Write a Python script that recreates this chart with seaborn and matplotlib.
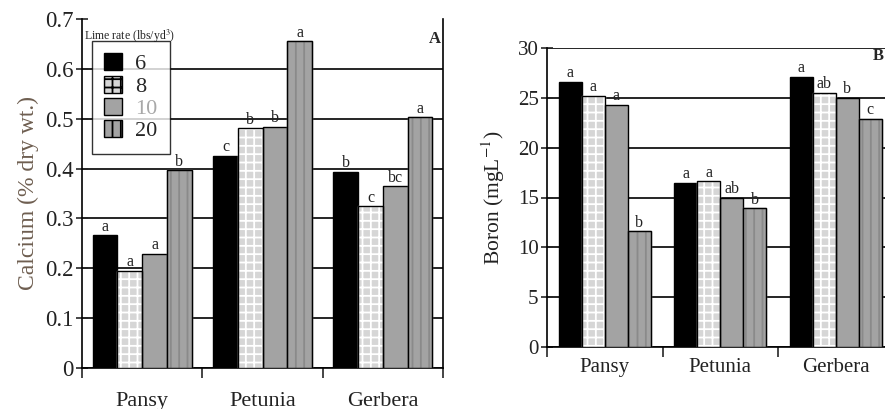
import pandas as pd
import seaborn as sns
import matplotlib.pyplot as plt
from matplotlib.patches import Rectangle, Patch

# datos
plantas = ["Pansy", "Petunia", "Gerbera"]
dosis = ["6", "8", "10", "20"]

calcio = {
    "6": [0.266, 0.426, 0.394],
    "8": [0.195, 0.481, 0.324],
    "10": [0.229, 0.484, 0.365],
    "20": [0.397, 0.655, 0.503],
}
letras_calcio = {
    "6": ["a", "c", "b"],
    "8": ["a", "b", "c"],
    "10": ["a", "b", "bc"],
    "20": ["b", "a", "a"],
}

boro = {
    "6": [26.6, 16.5, 27.1],
    "8": [25.2, 16.65, 25.5],
    "10": [24.3, 15.0, 25.0],
    "20": [11.6, 13.95, 22.9],
}
letras_boro = {
    "6": ["a", "a", "a"],
    "8": ["a", "a", "ab"],
    "10": ["a", "ab", "b"],
    "20": ["b", "b", "c"],
}

colores = {"6": "#000000", "8": "#d6d6d6", "10": "#a3a3a3", "20": "#a3a3a3"}
tramas = {"8": ("++", "white"), "20": ("||", "#8a8a8a")}

sns.set_style("white")
plt.rcParams["font.family"] = ["Liberation Serif", "DejaVu Serif"]
plt.rcParams["mathtext.fontset"] = "stix"
plt.rcParams["hatch.linewidth"] = 1.3


def tabla(valores):
    filas = []
    for d in dosis:
        for p, v in zip(plantas, valores[d]):
            filas.append({"planta": p, "dosis": d, "valor": v})
    return pd.DataFrame(filas)


def panel(ax, valores, letras, ymax, paso, ancho, fs_tick, fs_cat, izquierdo):
    sns.barplot(data=tabla(valores), x="planta", y="valor", hue="dosis",
                order=plantas, hue_order=dosis, palette=colores,
                width=ancho, gap=0, edgecolor="black", linewidth=1.0,
                saturation=1, errorbar=None, legend=False, ax=ax, zorder=3)

    for d, cont in zip(dosis, ax.containers):
        for barra, letra in zip(cont, letras[d]):
            if d in tramas:
                trama, color_trama = tramas[d]
                barra.set_hatch(trama)
                barra.set_edgecolor(color_trama)
                borde = Rectangle(barra.get_xy(), barra.get_width(), barra.get_height(),
                                  fill=False, edgecolor="black", linewidth=1.0, zorder=4)
                ax.add_patch(borde)
            ax.annotate(letra, (barra.get_x() + barra.get_width() / 2, barra.get_height()),
                        xytext=(0, 0.3), textcoords="offset points",
                        ha="center", va="bottom", fontsize=11.5, color="#222222", zorder=5)

    ax.set_xlim(-0.5, 2.5)
    ax.set_ylim(0, ymax)
    yt = [i * paso for i in range(int(round(ymax / paso)) + 1)]
    ax.set_yticks(yt)
    ax.set_yticklabels([f"{v:g}" for v in yt], fontsize=fs_tick, color="#222222")
    ax.tick_params(axis="y", direction="inout", length=8, width=1.2, left=True, pad=2)

    ax.set_xticks([-0.5, 0.5, 1.5, 2.5])
    ax.set_xticklabels([])
    ax.tick_params(axis="x", which="major", direction="out", length=7, width=1.2, bottom=True)
    ax.set_xticks([0, 1, 2], minor=True)
    ax.set_xticklabels(plantas, minor=True, fontsize=fs_cat, color="#222222")
    ax.tick_params(axis="x", which="minor", length=0, pad=17 if izquierdo else 8)

    ax.set_xlabel("")
    ax.yaxis.grid(True, color="black", linewidth=1.2)
    ax.set_axisbelow(True)
    for lin in ax.get_ygridlines():
        lin.set_zorder(1)
    if izquierdo:
        ax.get_ygridlines()[-1].set_visible(False)
    ax.spines["top"].set_visible(False)
    for s in ["left", "bottom", "right"]:
        ax.spines[s].set_color("black")
        ax.spines[s].set_linewidth(1.2)


fig = plt.figure(figsize=(8.85, 4.09), dpi=100)
ax1 = fig.add_axes([82 / 885, 41 / 409, 361 / 885, 349 / 409])
ax2 = fig.add_axes([547 / 885, 62 / 409, 346.5 / 885, 299 / 409])

panel(ax1, calcio, letras_calcio, 0.7, 0.1, 0.82, 16.5, 16, True)
panel(ax2, boro, letras_boro, 30, 5, 0.8, 15, 15, False)

ax1.set_ylabel("Calcium (% dry wt.)", fontsize=17, color="#6e5e50", labelpad=4)
ax2.set_ylabel("Boron (mgL$^{-1}$)", fontsize=15.5, color="#222222", labelpad=8)

ax1.text(0.995, 0.965, "A", transform=ax1.transAxes, ha="right", va="top",
         fontsize=12, fontweight="bold")
fig.text(884 / 885, 1 - 48 / 409, "B", ha="right", va="top",
         fontsize=12, fontweight="bold")

# leyenda
manijas = []
for d in dosis:
    trama, ctrama = tramas.get(d, (None, None))
    manijas.append(Patch(facecolor=colores[d], edgecolor="black", hatch=trama, linewidth=1.0))
ley = ax1.legend(manijas, dosis, loc="upper left", bbox_to_anchor=(0.028, 0.937),
                 borderaxespad=0, frameon=True, fancybox=False, fontsize=16,
                 handlelength=0.8, handleheight=0.8, handletextpad=0.6,
                 labelspacing=0.05, borderpad=0.55)
ley.get_frame().set_edgecolor("black")
ley.get_frame().set_linewidth(1.0)
ley.set_zorder(6)
ley.get_texts()[2].set_color("#a8a8a8")
ax1.text(0.006, 0.975, "Lime rate (lbs/yd$^3$)", transform=ax1.transAxes,
         ha="left", va="top", fontsize=8.5)

plt.savefig("out.png", dpi=100)
plt.close()
